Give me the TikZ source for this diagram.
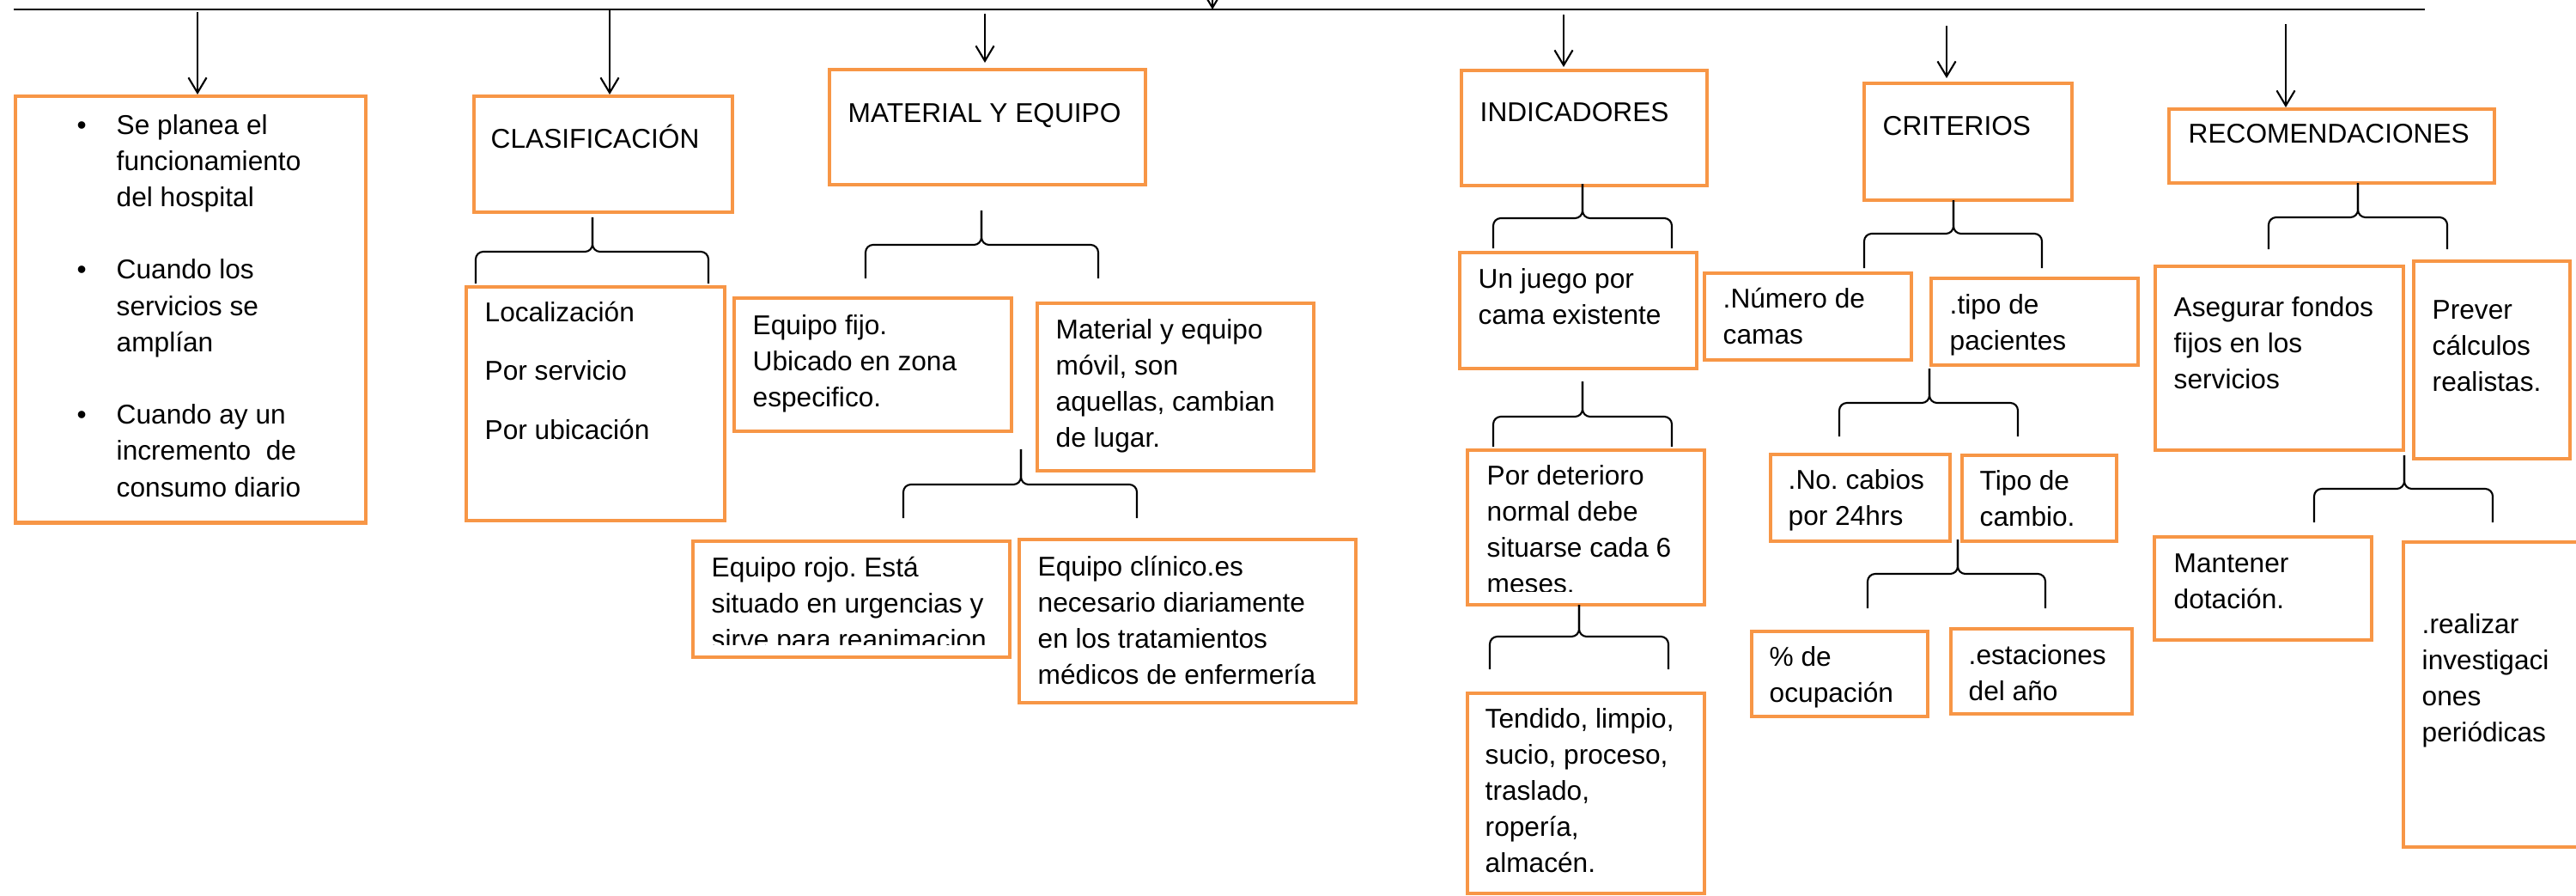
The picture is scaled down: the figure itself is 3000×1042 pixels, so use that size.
\documentclass[tikz,border=0pt]{standalone}
\usepackage{fontspec}
\setmainfont{Liberation Sans}
\usetikzlibrary{arrows.meta}
\usetikzlibrary{calc}
\definecolor{naranja}{RGB}{247,150,70}
\tikzstyle{caja} = [draw=naranja,line width=1.2pt,rectangle,anchor=north west,inner sep=0pt]
\tikzstyle{texto} = [anchor=base west,inner sep=0pt,font=\fontsize{9}{12}\selectfont]
\tikzstyle{flecha} = [-{Straight Barb[length=5pt,width=6pt]},line width=0.6pt]
\tikzstyle{llave} = [line width=0.6pt,rounded corners=2.5pt]
% lines of a box, baseline on the first one
\newcommand{\lineas}[1]{\begin{tabular}[t]{@{}l@{}}#1\end{tabular}}
% brace: tip x, tip y, bar y, left x, right x, bottom y
\newcommand{\llave}[6]{%
  \draw[llave] (#4,#6) -- (#4,#3) -- (#1,#3) -- (#1,#2);
  \draw[llave] (#5,#6) -- (#5,#3) -- (#1,#3) -- (#1,#2);}
\frenchspacing

\begin{document}
\begin{tikzpicture}[x=0.01cm,y=-0.01cm]
	\fill[white] (0,0) rectangle (3000,1042);
	\useasboundingbox (0,0) rectangle (3000,1042);

	% top line and arrows
	\draw[line width=0.8pt] (16,11) -- (2824,11);
	\coordinate (arriba) at (1412,-40);
	\coordinate (centro) at (1412,11);
	\coordinate (a1) at (230,14);
	\coordinate (a2) at (710,12);
	\coordinate (a3) at (1147,16);
	\coordinate (a4) at (1821,17);
	\coordinate (a5) at (2267,30);
	\coordinate (a6) at (2662,28);

	% column 1
	\node[caja, minimum width=4.08cm, minimum height=4.96cm] (plan) at (16,110) {};
	\node[texto] (planT) at (89,156) {\begin{tabular}[t]{@{}p{0.46cm}@{}l@{}}
		\textbullet & Se planea el\\
		 & funcionamiento\\
		 & del hospital\\[12pt]
		\textbullet & Cuando los\\
		 & servicios se\\
		 & amplían\\[12pt]
		\textbullet & Cuando ay un\\
		 & incremento~ de\\
		 & consumo diario
	\end{tabular}};

	% column 2
	\node[caja, minimum width=3.01cm, minimum height=1.35cm] (clas) at (550,110) {};
	\node[texto] (clasT) at (571,172) {CLASIFICACIÓN};
	\node[caja, minimum width=3.01cm, minimum height=2.72cm] (loc) at (541,332) {};
	\node[texto] (locT) at (564,374) {\lineas{Localización\\[7.6pt]Por servicio\\[7.6pt]Por ubicación}};

	% column 3
	\node[caja, minimum width=3.68cm, minimum height=1.34cm] (mat) at (964,79) {};
	\node[texto] (matT) at (987,142) {MATERIAL Y EQUIPO};
	\node[caja, minimum width=3.23cm, minimum height=1.55cm] (fijo) at (853,345) {};
	\node[texto] (fijoT) at (876,389) {\lineas{Equipo fijo.\\Ubicado en zona\\especifico.}};
	\node[caja, minimum width=3.22cm, minimum height=1.95cm] (movil) at (1206,351) {};
	\node[texto] (movilT) at (1229,394) {\lineas{Material y equipo\\móvil, son\\aquellas, cambian\\de lugar.}};
	\node[caja, minimum width=3.69cm, minimum height=1.35cm] (rojo) at (805,628) {};
	\begin{scope}
		\clip (805,628) rectangle (1174,750);
		\node[texto] (rojoT) at (828,671) {\lineas{Equipo rojo. Está\\situado en urgencias y\\sirve para reanimacion}};
	\end{scope}
	\node[caja, minimum width=3.92cm, minimum height=1.90cm] (clin) at (1185,626) {};
	\node[texto] (clinT) at (1208,670) {\lineas{Equipo clínico.es\\necesario diariamente\\en los tratamientos\\médicos de enfermería}};

	% column 4
	\node[caja, minimum width=2.86cm, minimum height=1.34cm] (ind) at (1700,80) {};
	\node[texto] (indT) at (1723,141) {INDICADORES};
	\node[caja, minimum width=2.76cm, minimum height=1.35cm] (juego) at (1698,292) {};
	\node[texto] (juegoT) at (1721,335) {\lineas{Un juego por\\cama existente}};
	\node[caja, minimum width=2.76cm, minimum height=1.80cm] (det) at (1707,522) {};
	\begin{scope}
		\clip (1707,522) rectangle (1983,688);
		\node[texto] (detT) at (1731,564) {\lineas{Por deterioro\\normal debe\\situarse cada 6\\meses.}};
	\end{scope}
	\node[caja, minimum width=2.76cm, minimum height=2.33cm] (tend) at (1707,805) {};
	\node[texto] (tendT) at (1729,847) {\lineas{Tendido, limpio,\\sucio, proceso,\\traslado,\\ropería,\\almacén.}};

	% column 5
	\node[caja, minimum width=2.42cm, minimum height=1.36cm] (crit) at (2169,95) {};
	\node[texto] (critT) at (2192,157) {CRITERIOS};
	\node[caja, minimum width=2.41cm, minimum height=1.01cm] (num) at (1983,316) {};
	\node[texto] (numT) at (2006,358) {\lineas{.Número de\\camas}};
	\node[caja, minimum width=2.41cm, minimum height=1.01cm] (tipo) at (2247,322) {};
	\node[texto] (tipoT) at (2270,365) {\lineas{.tipo de\\pacientes}};
	\node[caja, minimum width=2.09cm, minimum height=1.01cm] (cab) at (2060,527) {};
	\node[texto] (cabT) at (2082,569) {\lineas{.No. cabios\\por 24hrs}};
	\node[caja, minimum width=1.80cm, minimum height=1.00cm] (camb) at (2283,528) {};
	\node[texto] (cambT) at (2305,570) {\lineas{Tipo de\\cambio.}};
	\node[caja, minimum width=2.05cm, minimum height=0.99cm] (ocu) at (2038,733) {};
	\node[texto] (ocuT) at (2060,775) {\lineas{\% de\\ocupación}};
	\node[caja, minimum width=2.11cm, minimum height=0.99cm] (est) at (2270,730) {};
	\node[texto] (estT) at (2292,773) {\lineas{.estaciones\\del año}};

	% column 6
	\node[caja, minimum width=3.79cm, minimum height=0.86cm] (rec) at (2524,125) {};
	\node[texto] (recT) at (2548,166) {RECOMENDACIONES};
	\node[caja, minimum width=2.89cm, minimum height=2.14cm] (ase) at (2508,308) {};
	\node[texto] (aseT) at (2531,368) {\lineas{Asegurar fondos\\fijos en los\\servicios}};
	\node[caja, minimum width=1.82cm, minimum height=2.30cm] (prev) at (2809,302) {};
	\node[texto] (prevT) at (2832,371) {\lineas{Prever\\cálculos\\realistas.}};
	\node[caja, minimum width=2.53cm, minimum height=1.20cm] (mant) at (2507,623) {};
	\node[texto] (mantT) at (2531,666) {\lineas{Mantener\\dotación.}};
	\node[caja, minimum width=2.23cm, minimum height=3.55cm] (real) at (2797,629) {};
	\node[texto] (realT) at (2820,737) {\lineas{.realizar\\investigaci\\ones\\periódicas}};

	% arrows
	\draw[flecha] (arriba) -- (centro);
	\draw[flecha] (a1) -- (a1 |- plan.north);
	\draw[flecha] (a2) -- (a2 |- clas.north);
	\draw[flecha] (a3) -- ($(a3 |- mat.north)+(0,-6)$);
	\draw[flecha] (a4) -- ($(a4 |- ind.north)+(0,-2)$);
	\draw[flecha] (a5) -- ($(a5 |- crit.north)+(0,-4)$);
	\draw[flecha] (a6) -- (a6 |- rec.north);

	% braces
	\llave{690}{253}{293}{554}{825}{330}
	\llave{1143}{245}{285}{1008}{1279}{324}
	\llave{1189}{523}{564}{1052}{1324}{603}
	\llave{1843}{214}{254}{1739}{1947}{289}
	\llave{1843}{444}{485}{1739}{1947}{520}
	\llave{1839}{704}{741}{1735}{1943}{779}
	\llave{2275}{233}{272}{2171}{2378}{312}
	\llave{2247}{429}{469}{2142}{2350}{508}
	\llave{2280}{628}{668}{2175}{2382}{708}
	\llave{2746}{213}{253}{2642}{2850}{290}
	\llave{2800}{530}{569}{2695}{2903}{608}
\end{tikzpicture}
\end{document}
